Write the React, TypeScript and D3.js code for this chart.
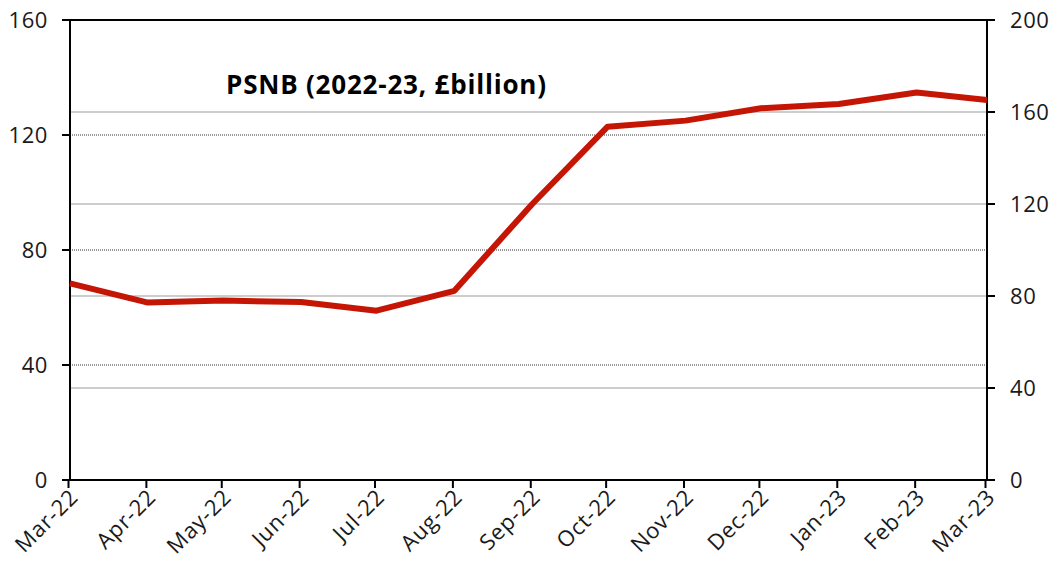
import React from "react";
import * as d3 from "d3";

const months = ["2022-03-01","2022-04-01","2022-05-01","2022-06-01","2022-07-01","2022-08-01","2022-09-01","2022-10-01","2022-11-01","2022-12-01","2023-01-01","2023-02-01","2023-03-01"];
const psnb = [68.4, 61.7, 62.4, 61.9, 58.9, 65.8, 96.0, 122.9, 125.0, 129.3, 130.8, 134.8, 132.2];
const leftTicks = [0, 40, 80, 120, 160];
const rightTicks = [0, 40, 80, 120, 160, 200];
const title = "PSNB (2022-23, £billion)";

const W = 1057, H = 568;
const M = { left: 70, right: 987, top: 20, bottom: 480 };
const FONT = "'Open Sans', 'Noto Sans', sans-serif";

export default function App() {
  const parse = d3.timeParse("%Y-%m-%d");
  const dates = months.map((m) => parse(m) as Date);
  const x = d3.scaleTime().domain([dates[0], dates[dates.length - 1]]).range([M.left, M.right]);
  const yL = d3.scaleLinear().domain([0, 160]).range([M.bottom, M.top]);
  const yR = d3.scaleLinear().domain([0, 200]).range([M.bottom, M.top]);
  const fmt = d3.timeFormat("%b-%y");
  const line = d3.line<number>().x((_, i) => x(dates[i])).y((d) => yL(d));

  return (
    <svg width={W} height={H} style={{ position: "absolute", left: 0, top: 0, background: "#fff" }}>
      {rightTicks.filter((t) => t > 0 && t < 200).map((t) => (
        <line key={"gr" + t} x1={M.left} x2={M.right} y1={yR(t)} y2={yR(t)} stroke="#bdbdbd" strokeWidth={1.5} />
      ))}
      {leftTicks.filter((t) => t > 0 && t < 160).map((t) => (
        <line key={"gl" + t} x1={M.left} x2={M.right} y1={yL(t)} y2={yL(t)} stroke="#333" strokeWidth={1} strokeDasharray="1,1" />
      ))}
      <line x1={M.left} x2={M.right} y1={M.top} y2={M.top} stroke="#000" strokeWidth={2} />
      <line x1={M.left} x2={M.right} y1={M.bottom} y2={M.bottom} stroke="#000" strokeWidth={2} />
      <line x1={M.left} x2={M.left} y1={M.top} y2={M.bottom} stroke="#000" strokeWidth={2} />
      <line x1={M.right} x2={M.right} y1={M.top} y2={M.bottom} stroke="#000" strokeWidth={2} />
      {leftTicks.map((t) => (
        <g key={"lt" + t}>
          <line x1={M.left - 8} x2={M.left} y1={yL(t)} y2={yL(t)} stroke="#000" strokeWidth={2} />
          <text x={48} y={yL(t)} dy="0.36em" textAnchor="end" fontFamily={FONT} fontSize={22} letterSpacing={0.6} fill="#1a1a1a">{t}</text>
        </g>
      ))}
      {rightTicks.map((t) => (
        <g key={"rt" + t}>
          <line x1={M.right} x2={M.right + 8} y1={yR(t)} y2={yR(t)} stroke="#000" strokeWidth={2} />
          <text x={1010} y={yR(t)} dy="0.36em" textAnchor="start" fontFamily={FONT} fontSize={22} letterSpacing={0.6} fill="#1a1a1a">{t}</text>
        </g>
      ))}
      {dates.map((d, i) => (
        <g key={"xt" + i}>
          <line x1={x(d) - 1.5} x2={x(d) - 1.5} y1={M.bottom} y2={M.bottom + 8} stroke="#000" strokeWidth={2} />
          <text transform={`translate(${x(d) + 4},${M.bottom + 13}) rotate(-45)`} textAnchor="end" dy="0.35em" fontFamily={FONT} fontSize={22} letterSpacing={0.8} fill="#1a1a1a">{fmt(d)}</text>
        </g>
      ))}
      <path d={line(psnb) || ""} fill="none" stroke="#c51605" strokeWidth={6} strokeLinejoin="round" />
      <text x={226} y={94} fontFamily={FONT} fontWeight="bold" fontSize={26} letterSpacing={0.8} fill="#000">{title}</text>
    </svg>
  );
}
